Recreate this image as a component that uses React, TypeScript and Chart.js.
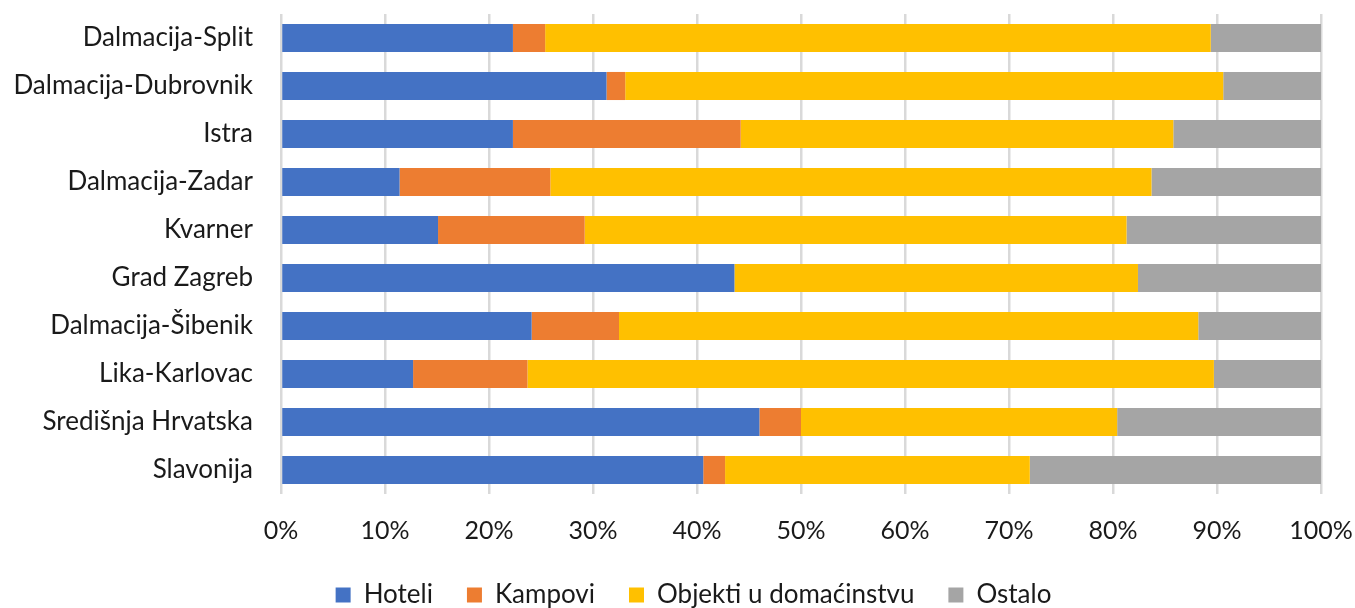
import React, { useEffect, useRef } from "react";
import { Chart, registerables } from "chart.js";

Chart.register(...registerables);

const categories = [
  "Dalmacija-Split",
  "Dalmacija-Dubrovnik",
  "Istra",
  "Dalmacija-Zadar",
  "Kvarner",
  "Grad Zagreb",
  "Dalmacija-Šibenik",
  "Lika-Karlovac",
  "Središnja Hrvatska",
  "Slavonija",
];

const hoteli = [22.3, 31.3, 22.3, 11.4, 15.1, 43.6, 24.1, 12.7, 46.0, 40.6];
const kampovi = [3.1, 1.8, 21.9, 14.5, 14.1, 0, 8.4, 11.0, 4.0, 2.1];
const objekti = [64.0, 57.5, 41.6, 57.8, 52.1, 38.8, 55.7, 66.0, 30.4, 29.3];
const ostalo = [10.6, 9.4, 14.2, 16.3, 18.7, 17.6, 11.8, 10.3, 19.6, 28.0];

const seriesNames = ["Hoteli", "Kampovi", "Objekti u domaćinstvu", "Ostalo"];
const seriesColors = ["#4472C4", "#ED7D31", "#FFC000", "#A5A5A5"];
const xTicks = [0, 10, 20, 30, 40, 50, 60, 70, 80, 90, 100];

const FONT = "Lato, 'Open Sans', sans-serif";

const legendShift = {
  id: "legendShift",
  afterLayout(chart: any) {
    const lg = chart.legend;
    if (lg) {
      lg.left += 33;
      lg.right += 33;
    }
  },
};

export default function App() {
  const ref = useRef<HTMLCanvasElement | null>(null);

  useEffect(() => {
    if (!ref.current) return;
    const values = [hoteli, kampovi, objekti, ostalo];
    const chart = new Chart(ref.current, {
      type: "bar",
      data: {
        labels: categories,
        datasets: values.map((v, i) => ({
          label: seriesNames[i],
          data: v,
          backgroundColor: seriesColors[i],
          borderWidth: 0,
          barPercentage: 0.585,
          categoryPercentage: 1,
        })),
      },
      options: {
        indexAxis: "y",
        animation: false,
        responsive: false,
        maintainAspectRatio: false,
        layout: { padding: { top: 14, right: 34, left: 0, bottom: 0 } },
        scales: {
          x: {
            stacked: true,
            min: 0,
            max: 100,
            afterBuildTicks: (scale: any) => {
              scale.ticks = xTicks.map((v) => ({ value: v }));
            },
            afterFit: (scale: any) => {
              scale.height = 54;
              scale.paddingLeft = 0;
              scale.paddingRight = 0;
            },
            ticks: {
              callback: (v: any) => v + "%",
              color: "#1a1a1a",
              font: { family: FONT, size: 25 },
              padding: 22,
              maxRotation: 0,
            },
            grid: { color: "#d9d9d9", lineWidth: 2.5, drawTicks: false },
            border: { display: false },
          },
          y: {
            stacked: true,
            afterFit: (scale: any) => {
              scale.width = 281;
              scale.paddingTop = 0;
              scale.paddingBottom = 0;
            },
            ticks: {
              color: "#1a1a1a",
              font: { family: FONT, size: 26 },
              padding: 28,
            },
            grid: { display: false, drawTicks: false },
            border: { display: false },
          },
        },
        plugins: {
          legend: {
            position: "bottom",
            maxHeight: 60,
            labels: {
              boxWidth: 15,
              boxHeight: 15,
              padding: 34,
              color: "#1a1a1a",
              font: { family: FONT, size: 26 },
            },
          },
          tooltip: { enabled: false },
        },
      },
      plugins: [legendShift],
    });
    return () => chart.destroy();
  }, []);

  return (
    <div style={{ position: "fixed", left: 0, top: 0, width: 1355, height: 608, background: "#fff" }}>
      <canvas ref={ref} width={1355} height={608} style={{ width: 1355, height: 608 }} />
    </div>
  );
}
